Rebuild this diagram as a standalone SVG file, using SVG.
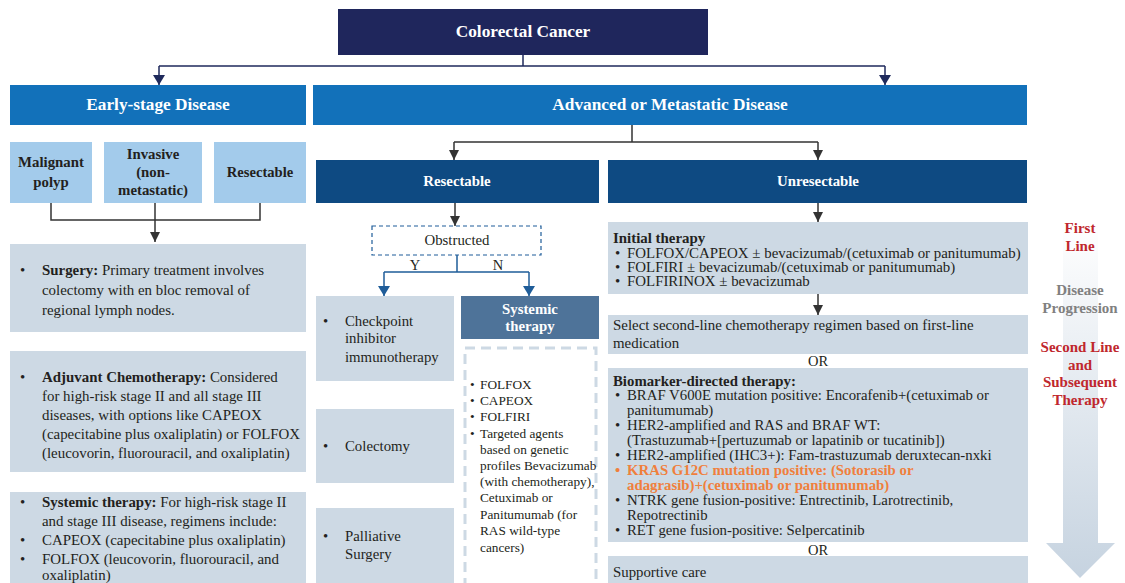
<svg xmlns="http://www.w3.org/2000/svg" width="1125" height="583" viewBox="0 0 1125 583">
<style>
.t{font-family:"Liberation Serif","Times New Roman",serif;fill:#231f20}
.w{font-family:"Liberation Serif","Times New Roman",serif;fill:#ffffff;font-weight:bold;text-anchor:middle}
.b{font-weight:bold}
.c{text-anchor:middle}
.gray{fill:#cdd9e4}
.lb{fill:#a3cbeb}
.dk{fill:#0e4a82}
.md{fill:#1271ba}
.ln{fill:none;stroke-width:1.5}
.navy{stroke:#1f2a5c}
.dark{stroke:#333333}
.blue{stroke:#1f5d99}
.red{fill:#c0272d;font-weight:bold;text-anchor:middle;font-family:"Liberation Serif","Times New Roman",serif}
.grey{fill:#808080;font-weight:bold;text-anchor:middle;font-family:"Liberation Serif","Times New Roman",serif}
</style>
<defs>
<marker id="mNavy" viewBox="0 0 10 12" refX="10" refY="6" markerWidth="10" markerHeight="12" markerUnits="userSpaceOnUse" orient="auto"><path d="M0,0 L10,6 L0,12 z" fill="#1f2a5c"/></marker>
<marker id="mDark" viewBox="0 0 10 10" refX="10" refY="5" markerWidth="10" markerHeight="10" markerUnits="userSpaceOnUse" orient="auto"><path d="M0,0 L10,5 L0,10 z" fill="#333333"/></marker>
<marker id="mBlue" viewBox="0 0 10 12" refX="10" refY="6" markerWidth="10" markerHeight="12" markerUnits="userSpaceOnUse" orient="auto"><path d="M0,0 L10,6 L0,12 z" fill="#1f5d99"/></marker>
<linearGradient id="gArrow" x1="0" y1="0" x2="0" y2="1"><stop offset="0" stop-color="#ffffff"/><stop offset="1" stop-color="#c6d3e0"/></linearGradient>
</defs>

<g id="progress-arrow">
<polygon points="1063,223 1098,223 1098,543 1115,543 1080,578 1046,543 1063,543" fill="url(#gArrow)"/>
<text class="red" font-size="15" x="1080" y="233">First</text>
<text class="red" font-size="15" x="1080" y="251">Line</text>
<text class="grey" font-size="15" x="1080" y="295">Disease</text>
<text class="grey" font-size="15" x="1080" y="313">Progression</text>
<text class="red" font-size="15" x="1080" y="352">Second Line</text>
<text class="red" font-size="15" x="1080" y="370">and</text>
<text class="red" font-size="15" x="1080" y="387">Subsequent</text>
<text class="red" font-size="15" x="1080" y="405">Therapy</text>
</g>

<g id="connectors">
<path class="ln navy" d="M523,55 V66 M159,66 H885"/>
<path class="ln navy" d="M159,66 V85" marker-end="url(#mNavy)"/>
<path class="ln navy" d="M885,66 V85" marker-end="url(#mNavy)"/>
<path class="ln dark" d="M51,203 V220 H260 V203"/>
<path class="ln dark" d="M155,203 V242" marker-end="url(#mDark)"/>
<path class="ln dark" d="M632,125 V142 M454,142 H818"/>
<path class="ln dark" d="M454,142 V160" marker-end="url(#mDark)"/>
<path class="ln dark" d="M818,142 V160" marker-end="url(#mDark)"/>
<path class="ln dark" d="M455,203 V226" marker-end="url(#mDark)"/>
<path class="ln blue" d="M457,255 V272 M384,272 H529"/>
<path class="ln blue" d="M384,272 V296" marker-end="url(#mBlue)"/>
<path class="ln blue" d="M529,272 V296" marker-end="url(#mBlue)"/>
<text class="t c" font-size="14.5" x="415" y="270">Y</text>
<text class="t c" font-size="14.5" x="498" y="270">N</text>
<path class="ln dark" d="M818,203 V222" marker-end="url(#mDark)"/>
<path class="ln dark" d="M818,294 V315" marker-end="url(#mDark)"/>
</g>

<g id="colorectal-cancer">
<rect x="338" y="9" width="370" height="46" fill="#1f265c"/>
<text class="w" font-size="17.3" x="523" y="37">Colorectal Cancer</text>
</g>

<g id="early-stage">
<rect class="md" x="10" y="85" width="296" height="40"/>
<text class="w" font-size="17.3" x="158" y="110">Early-stage Disease</text>
</g>

<g id="advanced">
<rect class="md" x="313" y="85" width="714" height="40"/>
<text class="w" font-size="17.3" x="670" y="110">Advanced or Metastatic Disease</text>
</g>

<g id="malignant-polyp">
<rect class="lb" x="10" y="142" width="82" height="61"/>
<text class="t b c" font-size="14.8" x="51" y="167">Malignant</text>
<text class="t b c" font-size="14.8" x="51" y="187">polyp</text>
</g>
<g id="invasive">
<rect class="lb" x="104" y="142" width="98" height="61"/>
<text class="t b c" font-size="14.8" x="153" y="159">Invasive</text>
<text class="t b c" font-size="14.8" x="153" y="177">(non-</text>
<text class="t b c" font-size="14.8" x="153" y="195">metastatic)</text>
</g>
<g id="resectable-early">
<rect class="lb" x="214" y="142" width="92" height="61"/>
<text class="t b c" font-size="14.6" x="260" y="177">Resectable</text>
</g>

<g id="surgery">
<rect class="gray" x="10" y="244" width="296" height="88"/>
<text class="t" font-size="14.9"><tspan x="20" y="275">•</tspan><tspan x="42" y="275" class="b">Surgery:</tspan><tspan> Primary treatment involves</tspan><tspan x="42" y="295">colectomy with en bloc removal of</tspan><tspan x="42" y="315">regional lymph nodes.</tspan></text>
</g>

<g id="adjuvant">
<rect class="gray" x="10" y="351" width="296" height="121"/>
<text class="t" font-size="14.9"><tspan x="20" y="382">•</tspan><tspan x="42" y="382" class="b">Adjuvant Chemotherapy:</tspan><tspan> Considered</tspan><tspan x="42" y="401">for high-risk stage II and all stage III</tspan><tspan x="42" y="420">diseases, with options like CAPEOX</tspan><tspan x="42" y="439">(capecitabine plus oxaliplatin) or FOLFOX</tspan><tspan x="42" y="458">(leucovorin, fluorouracil, and oxaliplatin)</tspan></text>
</g>

<g id="systemic-early">
<rect class="gray" x="10" y="492" width="296" height="95"/>
<text class="t" font-size="14.9"><tspan x="20" y="507">•</tspan><tspan x="42" y="507" class="b">Systemic therapy:</tspan><tspan> For high-risk stage II</tspan><tspan x="42" y="526">and stage III disease, regimens include:</tspan><tspan x="20" y="545">•</tspan><tspan x="42" y="545">CAPEOX (capecitabine plus oxaliplatin)</tspan><tspan x="20" y="564">•</tspan><tspan x="42" y="564">FOLFOX (leucovorin, fluorouracil, and</tspan><tspan x="42" y="580">oxaliplatin)</tspan></text>
</g>

<g id="resectable">
<rect class="dk" x="316" y="160" width="283" height="43"/>
<text class="w" font-size="14.8" x="457" y="186">Resectable</text>
</g>

<g id="unresectable">
<rect class="dk" x="608" y="160" width="419" height="43"/>
<text class="w" font-size="14.8" x="818" y="186">Unresectable</text>
</g>

<g id="obstructed">
<rect x="372" y="226" width="169" height="29" fill="none" stroke="#1f5d99" stroke-width="1.2" stroke-dasharray="4,3"/>
<text class="t c" font-size="14.8" x="457" y="245">Obstructed</text>
</g>

<g id="checkpoint">
<rect class="gray" x="316" y="296" width="138" height="85"/>
<text class="t" font-size="14.8"><tspan x="323" y="326">•</tspan><tspan x="345" y="326">Checkpoint</tspan><tspan x="345" y="343">inhibitor</tspan><tspan x="345" y="362">immunotherapy</tspan></text>
</g>
<g id="colectomy">
<rect class="gray" x="316" y="409" width="138" height="74"/>
<text class="t" font-size="14.8"><tspan x="323" y="451">•</tspan><tspan x="345" y="451">Colectomy</tspan></text>
</g>
<g id="palliative">
<rect class="gray" x="316" y="508" width="138" height="80"/>
<text class="t" font-size="14.8"><tspan x="323" y="541">•</tspan><tspan x="345" y="541">Palliative</tspan><tspan x="345" y="559">Surgery</tspan></text>
</g>

<g id="systemic-therapy">
<rect x="461" y="296" width="138" height="43" fill="#4e7399"/>
<text class="w" font-size="14.8" x="530" y="314">Systemic</text>
<text class="w" font-size="14.8" x="530" y="331">therapy</text>
</g>

<g id="systemic-list">
<rect x="465" y="348" width="131" height="245" fill="none" stroke="#cdd9e4" stroke-width="3" stroke-dasharray="10,6"/>
<text class="t" font-size="13.3"><tspan x="470" y="389">•</tspan><tspan x="480" y="389">FOLFOX</tspan><tspan x="470" y="405">•</tspan><tspan x="480" y="405">CAPEOX</tspan><tspan x="470" y="421">•</tspan><tspan x="480" y="421">FOLFIRI</tspan><tspan x="470" y="438">•</tspan><tspan x="480" y="438">Targeted agents</tspan><tspan x="480" y="454">based on genetic</tspan><tspan x="480" y="470">profiles Bevacizumab</tspan><tspan x="480" y="486">(with chemotherapy),</tspan><tspan x="480" y="502">Cetuximab or</tspan><tspan x="480" y="519">Panitumumab (for</tspan><tspan x="480" y="535">RAS wild-type</tspan><tspan x="480" y="552">cancers)</tspan></text>
</g>

<g id="initial-therapy">
<rect class="gray" x="608" y="222" width="420" height="72"/>
<text class="t" font-size="14.9"><tspan x="613" y="243" class="b">Initial therapy</tspan><tspan x="615" y="258">•</tspan><tspan x="627" y="258">FOLFOX/CAPEOX ± bevacizumab/(cetuximab or panitumumab)</tspan><tspan x="615" y="272">•</tspan><tspan x="627" y="272">FOLFIRI ± bevacizumab/(cetuximab or panitumumab)</tspan><tspan x="615" y="286">•</tspan><tspan x="627" y="286">FOLFIRINOX ± bevacizumab</tspan></text>
</g>

<g id="second-line">
<rect class="gray" x="608" y="315" width="420" height="39"/>
<text class="t" font-size="14.9"><tspan x="613" y="330">Select second-line chemotherapy regimen based on first-line</tspan><tspan x="613" y="348">medication</tspan></text>
</g>

<text class="t c" font-size="14.5" x="818" y="366">OR</text>

<g id="biomarker">
<rect class="gray" x="608" y="368" width="420" height="174"/>
<text class="t" font-size="14.8"><tspan x="613" y="386" class="b">Biomarker-directed therapy:</tspan><tspan x="615" y="400">•</tspan><tspan x="627" y="400">BRAF V600E mutation positive: Encorafenib+(cetuximab or</tspan><tspan x="627" y="415">panitumumab)</tspan><tspan x="615" y="430">•</tspan><tspan x="627" y="430">HER2-amplified and RAS and BRAF WT:</tspan><tspan x="627" y="445">(Trastuzumab+[pertuzumab or lapatinib or tucatinib])</tspan><tspan x="615" y="460">•</tspan><tspan x="627" y="460">HER2-amplified (IHC3+): Fam-trastuzumab deruxtecan-nxki</tspan></text>
<text font-family="Liberation Serif, Times New Roman, serif" font-size="14.8" font-weight="bold" fill="#f07f3c"><tspan x="615" y="475">•</tspan><tspan x="627" y="475">KRAS G12C mutation positive: (Sotorasib or</tspan><tspan x="627" y="490">adagrasib)+(cetuximab or panitumumab)</tspan></text>
<text class="t" font-size="14.8"><tspan x="615" y="505">•</tspan><tspan x="627" y="505">NTRK gene fusion-positive: Entrectinib, Larotrectinib,</tspan><tspan x="627" y="520">Repotrectinib</tspan><tspan x="615" y="535">•</tspan><tspan x="627" y="535">RET gene fusion-positive: Selpercatinib</tspan></text>
</g>

<text class="t c" font-size="14.5" x="818" y="555">OR</text>

<g id="supportive-care">
<rect class="gray" x="608" y="556" width="420" height="30"/>
<text class="t" font-size="14.8" x="613" y="577">Supportive care</text>
</g>
</svg>
